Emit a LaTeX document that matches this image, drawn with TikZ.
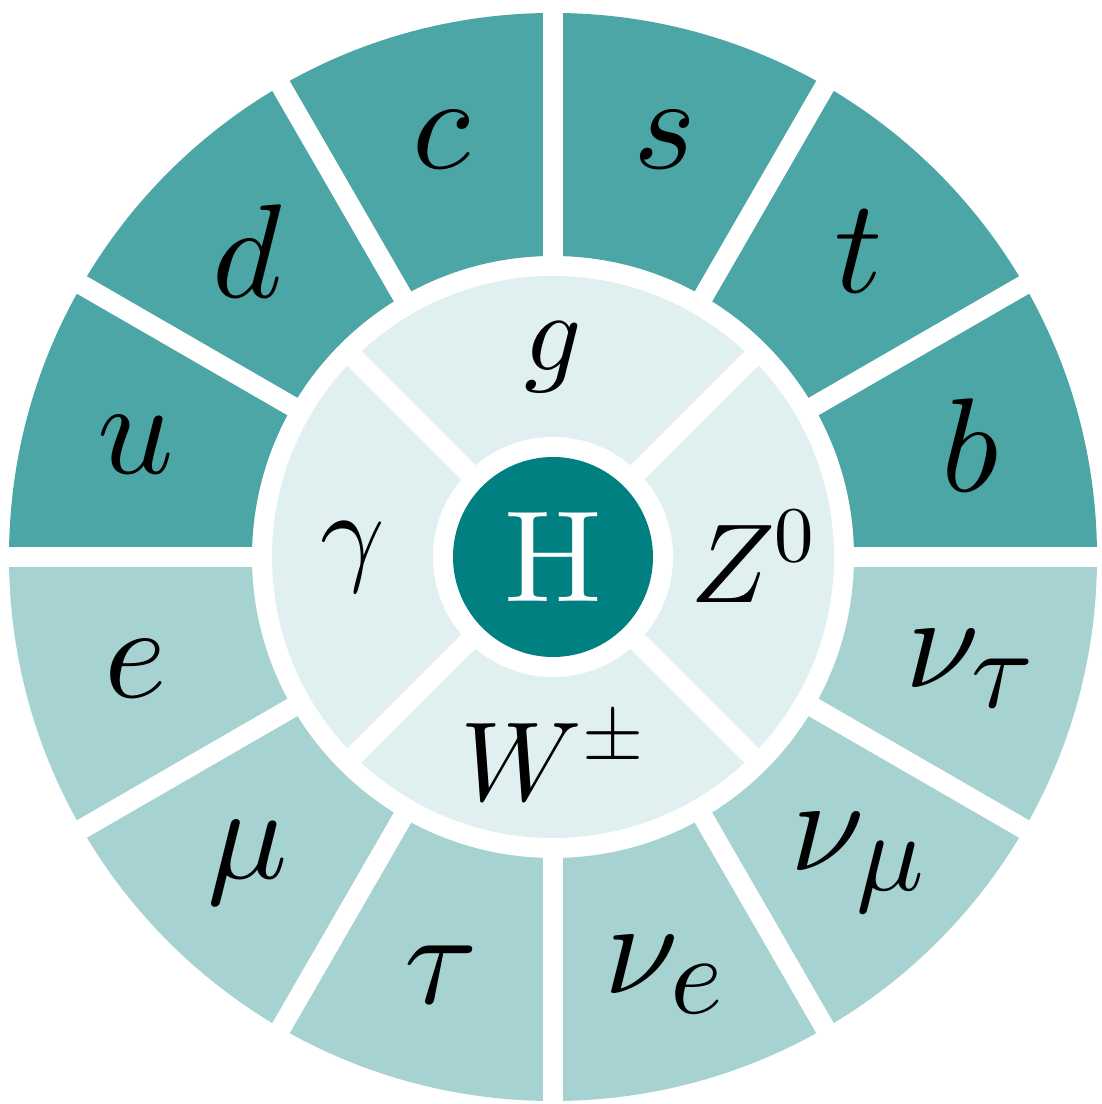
\RequirePackage{fix-cm}
\documentclass[tikz,border=0pt]{standalone}
\DeclareFontShape{OML}{cmm}{m}{it}{<->cmmi10}{}
\DeclareFontShape{OT1}{cmr}{m}{n}{<->cmr10}{}
\DeclareFontShape{OMS}{cmsy}{m}{n}{<->cmsy10}{}
\DeclareMathSizes{38}{38}{32}{26}
\DeclareMathSizes{32}{32}{22.4}{16}

\begin{document}
\begin{tikzpicture}[
quark/.style={fill=teal!70},
lepton/.style={fill=teal!35},
boson/.style={fill=teal!12},
gap/.style={white,line width=2mm},
outerLabel/.style={font=\fontsize{38}{40}\selectfont},
innerLabel/.style={font=\fontsize{32}{36}\selectfont},
higgs/.style={circle,fill=teal,minimum size=2cm,inner sep=0pt,text=white,font=\fontsize{37}{40}\selectfont}
]
\useasboundingbox (-5.53,-5.47) rectangle (5.48,5.57);

% outer ring: quarks on top, leptons below
\fill[quark] (0:3.01) -- (0:5.44) arc[start angle=0,end angle=180,radius=5.44] -- (180:3.01) arc[start angle=180,end angle=0,radius=3.01] -- cycle;
\fill[lepton] (180:3.01) -- (180:5.44) arc[start angle=180,end angle=360,radius=5.44] -- (360:3.01) arc[start angle=360,end angle=180,radius=3.01] -- cycle;

% inner ring of gauge bosons
\fill[boson] (0,0) circle (2.81);
\fill[white] (0,0) circle (1.2);

\foreach \a in {0,30,...,330}
 \draw[gap] (\a:2.9) -- (\a:5.5);
\foreach \a in {45,135,225,315}
 \draw[gap] (\a:1.1) -- (\a:2.9);

\foreach \a/\name/\txt in {15/b/$b$,45/t/$t$,75/s/$s$,105/c/$c$,135/d/$d$,165/u/$u$,195/e/$e$,225/mu/$\mu$,255/tau/$\tau$,285/nue/$\nu_e$,315/numu/$\nu_\mu$,345/nutau/$\nu_\tau$}
 \node[outerLabel] (\name) at (\a:4.32) {\txt};

\node[innerLabel] (g) at (90:2.0) {$g$};
\node[innerLabel] (gamma) at (180:2.0) {$\gamma$};
\node[innerLabel] (W) at (270:2.0) {$W^\pm$};
\node[innerLabel] (Z) at (0:2.0) {$Z^0$};

\node[higgs] (H) at (0,0) {$\mathrm{H}$};
\end{tikzpicture}
\end{document}
